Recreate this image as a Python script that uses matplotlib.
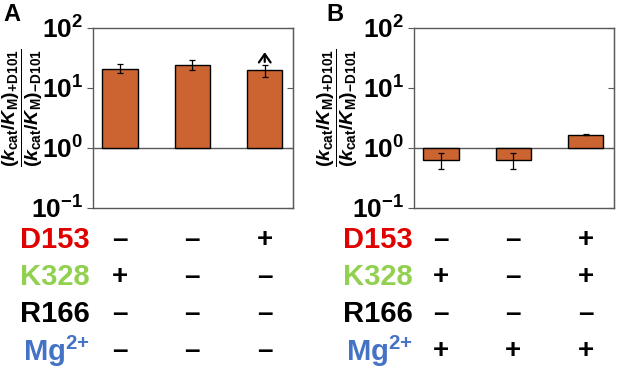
import matplotlib
matplotlib.use('Agg')
import matplotlib.pyplot as plt
import matplotlib.transforms as mtrans
import numpy as np

plt.rcParams['font.family'] = ['Liberation Sans', 'DejaVu Sans']
plt.rcParams['mathtext.fontset'] = 'custom'
plt.rcParams['mathtext.rm'] = 'Liberation Sans:bold'
plt.rcParams['mathtext.bf'] = 'Liberation Sans:bold'
plt.rcParams['mathtext.it'] = 'Liberation Sans:italic:bold'

"""Data"""

# panel A
vals_a = [20.7, 24.5, 20.0]
lo_a = [17.8, 20.0, 15.5]
hi_a = [25.0, 29.6, 24.0]
arrow_a = (2, 24.5, 44.0)   # bar index, start, end (lower bound marker)

# panel B
vals_b = [0.64, 0.64, 1.65]
lo_b = [0.44, 0.44, 1.63]
hi_b = [0.83, 0.83, 1.68]

row_names = ['D153', 'K328', 'R166', r'$\mathbf{Mg^{2{+}}}$']
row_colors = ['#E00000', '#92D050', '#000000', '#4472C4']
signs_a = [['–', '–', '+'],
           ['+', '–', '–'],
           ['–', '–', '–'],
           ['–', '–', '–']]
signs_b = [['–', '–', '+'],
           ['+', '–', '+'],
           ['–', '–', '–'],
           ['+', '+', '+']]

ytick_vals = [0.1, 1, 10, 100]
ytick_labels = [r'$\mathbf{10^{{-}1}}$', r'$\mathbf{10^{0}}$', r'$\mathbf{10^{1}}$', r'$\mathbf{10^{2}}$']
ylabel = (r'$\dfrac{(k_{\mathbf{cat}}/K_{\mathbf{M}})_{\mathbf{{+}D101}}}'
          r'{(k_{\mathbf{cat}}/K_{\mathbf{M}})_{\mathbf{{-}D101}}}$')

bar_color = '#CB6431'
frame_color = '#595959'

"""Figure"""

fig = plt.figure(figsize=(6.17, 3.68), dpi=100)
W, H = 617, 368


def panel(left_px, vals, lo, hi):
    ax = fig.add_axes([left_px / W, 1 - 208 / H, 200 / W, 180 / H])
    x = np.arange(len(vals))
    v = np.array(vals)
    ax.bar(x, v - 1, bottom=1, width=0.49, color=bar_color,
           edgecolor='black', linewidth=1.0, zorder=2)
    yerr = [v - np.array(lo), np.array(hi) - v]
    ax.errorbar(x, v, yerr=yerr, fmt='none', ecolor='black',
                elinewidth=0.9, capsize=2, capthick=0.9, zorder=3)
    ax.axhline(1, color=frame_color, lw=1.0, zorder=1)
    ax.set_yscale('log')
    ax.set_ylim(0.1, 100)
    ax.set_xlim(-0.37, 2.39)
    ax.set_xticks([])
    ax.set_yticks(ytick_vals)
    ax.set_yticklabels(ytick_labels, fontsize=19)
    ax.yaxis.set_minor_locator(matplotlib.ticker.NullLocator())
    ax.tick_params(axis='y', direction='out', length=4, width=0.8,
                   color=frame_color, pad=3)
    for s in ax.spines.values():
        s.set_color(frame_color)
        s.set_linewidth(1.0)
    sec = ax.secondary_yaxis('right')
    sec.set_yticks(ytick_vals)
    sec.set_yticklabels([])
    sec.yaxis.set_minor_locator(matplotlib.ticker.NullLocator())
    sec.tick_params(axis='y', direction='in', length=4, width=0.8, color=frame_color)
    sec.spines['right'].set_color(frame_color)
    return ax


ax_a = panel(93, vals_a, lo_a, hi_a)
ax_b = panel(414, vals_b, lo_b, hi_b)

# lower-bound arrow on panel A
i, y0, y1 = arrow_a
ax_a.annotate('', xy=(i, y1), xytext=(i, y0),
              arrowprops=dict(arrowstyle='->,head_length=0.5,head_width=0.35',
                              color='black', lw=1.6, mutation_scale=12))

# y labels
for xpx in (23, 338):
    fig.text(xpx / W, 1 - 108 / H, ylabel, rotation=90, ha='center',
             va='center', fontsize=14)

# panel letters
fig.text(3 / W, 1 - 3 / H, 'A', fontsize=17, fontweight='bold', va='top', ha='left')
fig.text(326 / W, 1 - 3 / H, 'B', fontsize=17, fontweight='bold', va='top', ha='left')

# condition table
row_y = [240, 277, 314, 351]
for ax, signs, label_x in ((ax_a, signs_a, 90), (ax_b, signs_b, 413)):
    trans = mtrans.blended_transform_factory(ax.transData, fig.transFigure)
    for r, (name, col) in enumerate(zip(row_names, row_colors)):
        yy = 1 - row_y[r] / H
        fig.text(label_x / W, yy, name, color=col, fontsize=21,
                 fontweight='bold', ha='right', va='center')
        for c, s in enumerate(signs[r]):
            ax.text(c, yy, s, transform=trans, fontsize=20, fontweight='bold',
                    ha='center', va='center', clip_on=False)

fig.savefig('out.png', dpi=100)
